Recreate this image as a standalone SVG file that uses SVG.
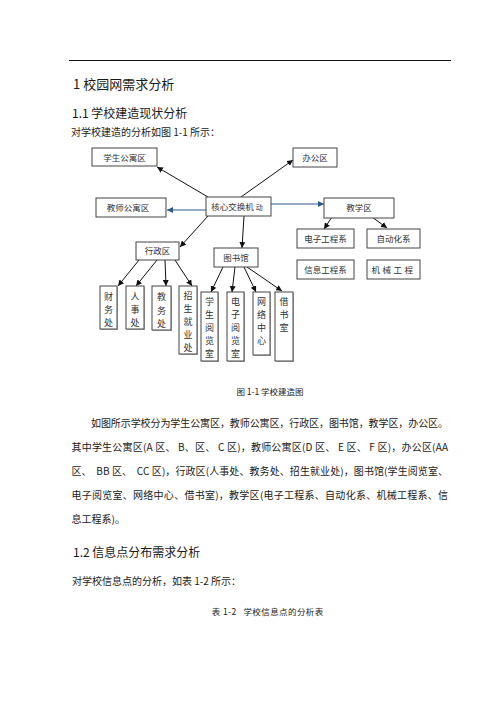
<svg xmlns="http://www.w3.org/2000/svg" width="496" height="702" viewBox="0 0 496 702">
<defs>
<style>
.t{font-family:"Noto Sans CJK SC","Liberation Sans",sans-serif;fill:#1a1a1a}
.h1{font-size:13px}
.h2{font-size:12px}
.p{font-size:10px}
.cap{font-size:8.5px}
.bx{fill:#fff;stroke:#444;stroke-width:1}
.sh{fill:#b5b5b5}
.lb{font-family:"Noto Sans CJK SC","Liberation Serif",serif;font-size:8.5px;fill:#333;text-anchor:middle}
.vl{font-family:"Noto Sans CJK SC","Liberation Serif",serif;font-size:9px;fill:#333;text-anchor:middle}
.k{stroke:#111;stroke-width:1;fill:none;marker-end:url(#ah)}
.b{stroke:#2a5a8c;stroke-width:1.2;fill:none;marker-end:url(#ahb)}
</style>
<marker id="ah" markerUnits="userSpaceOnUse" markerWidth="7" markerHeight="6" refX="6" refY="3" orient="auto"><path d="M0,0 L6,3 L0,6 z" fill="#111"/></marker>
<marker id="ahb" markerUnits="userSpaceOnUse" markerWidth="7" markerHeight="6" refX="6" refY="3" orient="auto"><path d="M0,0 L6,3 L0,6 z" fill="#2a5a8c"/></marker>
</defs>
<rect width="496" height="702" fill="#fff"/>
<line x1="69" y1="60.5" x2="451" y2="60.5" stroke="#111" stroke-width="1"/>
<text class="t h1" x="73" y="88.5">1 校园网需求分析</text>
<text class="t h2" x="72" y="117.5">1.1 学校建造现状分析</text>
<text class="t p" x="71" y="135.8">对学校建造的分析如图 1-1 所示：</text>

<g id="connectors">
<line class="k" x1="208" y1="197" x2="157" y2="167"/>
<line class="k" x1="241" y1="197" x2="293" y2="160"/>
<line class="b" x1="206" y1="210" x2="167" y2="210"/>
<line class="b" x1="271" y1="204" x2="324" y2="204"/>
<line class="k" x1="208" y1="216" x2="180" y2="247"/>
<line class="k" x1="244" y1="216" x2="242" y2="248"/>
<line class="k" x1="332" y1="217" x2="324" y2="229"/>
<line class="k" x1="372" y1="217" x2="387" y2="228"/>
<line class="k" x1="139" y1="260" x2="118" y2="286"/>
<line class="k" x1="157" y1="260" x2="136" y2="286"/>
<line class="k" x1="165" y1="260" x2="166" y2="286"/>
<line class="k" x1="175" y1="260" x2="192" y2="286"/>
<line class="k" x1="223" y1="267" x2="211" y2="292"/>
<line class="k" x1="235" y1="267" x2="232" y2="292"/>
<line class="k" x1="244" y1="267" x2="256" y2="292"/>
<line class="k" x1="247" y1="267" x2="282" y2="291"/>
</g>

<g id="n-xsgy"><rect class="bx" x="92" y="148" width="65" height="18"/><text class="lb" x="124.5" y="160.5">学生公寓区</text></g>
<g id="n-bgq"><rect class="bx" x="293" y="148" width="44" height="19"/><text class="lb" x="315" y="160.5">办公区</text></g>
<g id="n-jsgy"><rect class="bx" x="96" y="198" width="70" height="19"/><text class="lb" x="128" y="210.5">教师公寓区</text></g>
<g id="n-core"><rect class="bx" x="206" y="197" width="65" height="19"/><text class="lb" x="237" y="210">核心交换机 <tspan font-size="7">动</tspan></text></g>
<g id="n-jxq"><rect class="bx" x="324" y="198" width="70" height="20"/><text class="lb" x="359" y="211">教学区</text></g>
<g id="n-xzq"><rect class="bx" x="136" y="242" width="43" height="18"/><text class="lb" x="157.5" y="254">行政区</text></g>
<g id="n-tsg"><rect class="bx" x="214" y="248" width="44" height="19"/><text class="lb" x="236" y="260.5">图书馆</text></g>
<g id="n-dzgc"><rect class="bx" x="297" y="229" width="57" height="19"/><text class="lb" x="325.5" y="241.5">电子工程系</text></g>
<g id="n-zdh"><rect class="bx" x="367" y="229" width="53" height="19"/><text class="lb" x="393.5" y="241.5">自动化系</text></g>
<g id="n-xxgc"><rect class="bx" x="297" y="260" width="57" height="19"/><text class="lb" x="325.5" y="272.5">信息工程系</text></g>
<g id="n-jxgc"><rect class="bx" x="367" y="260" width="53" height="19"/><text class="lb" x="393.5" y="272.5" letter-spacing="2.5">机械工程</text></g>

<g id="n-cwc"><rect class="sh" x="101" y="287" width="17" height="43"/><rect class="bx" x="100" y="286" width="17" height="43"/><text class="vl"><tspan x="108.5" y="300">财</tspan><tspan x="108.5" y="313">务</tspan><tspan x="108.5" y="326">处</tspan></text></g>
<g id="n-rsc"><rect class="sh" x="127" y="287" width="18" height="43"/><rect class="bx" x="126" y="286" width="18" height="43"/><text class="vl"><tspan x="135" y="300">人</tspan><tspan x="135" y="313">事</tspan><tspan x="135" y="326">处</tspan></text></g>
<g id="n-jwc"><rect class="sh" x="153" y="287" width="19" height="44"/><rect class="bx" x="152" y="286" width="19" height="44"/><text class="vl" font-size="10.5"><tspan x="161.5" y="300">教</tspan><tspan x="161.5" y="313.5">务</tspan><tspan x="161.5" y="327">处</tspan></text></g>
<g id="n-zsjy"><rect class="sh" x="180" y="287" width="18" height="68"/><rect class="bx" x="179" y="286" width="18" height="68"/><text class="vl"><tspan x="188" y="298.5">招</tspan><tspan x="188" y="311.5">生</tspan><tspan x="188" y="324.5">就</tspan><tspan x="188" y="337.5">业</tspan><tspan x="188" y="350.5">处</tspan></text></g>
<g id="n-xsyl"><rect class="sh" x="202" y="293" width="17" height="69"/><rect class="bx" x="201" y="292" width="17" height="69"/><text class="vl"><tspan x="209.5" y="305">学</tspan><tspan x="209.5" y="318">生</tspan><tspan x="209.5" y="331">阅</tspan><tspan x="209.5" y="344">览</tspan><tspan x="209.5" y="357">室</tspan></text></g>
<g id="n-dzyl"><rect class="sh" x="228" y="293" width="17" height="69"/><rect class="bx" x="227" y="292" width="17" height="69"/><text class="vl"><tspan x="235.5" y="305">电</tspan><tspan x="235.5" y="318">子</tspan><tspan x="235.5" y="331">阅</tspan><tspan x="235.5" y="344">览</tspan><tspan x="235.5" y="357">室</tspan></text></g>
<g id="n-wlzx"><rect class="sh" x="254" y="293" width="17" height="63"/><rect class="bx" x="253" y="292" width="17" height="63"/><text class="vl"><tspan x="261.5" y="305">网</tspan><tspan x="261.5" y="318">络</tspan><tspan x="261.5" y="331">中</tspan><tspan x="261.5" y="344">心</tspan></text></g>
<g id="n-jss"><rect class="sh" x="276" y="293" width="18" height="69"/><rect class="bx" x="275" y="292" width="18" height="69"/><text class="vl"><tspan x="284" y="305">借</tspan><tspan x="284" y="318">书</tspan><tspan x="284" y="331">室</tspan></text></g>

<text class="t cap" x="270" y="394.7" text-anchor="middle" font-size="9">图 1-1 学校建造图</text>

<text class="t p" x="91" y="426.8" textLength="357" lengthAdjust="spacing">如图所示学校分为学生公寓区，教师公寓区，行政区，图书馆，教学区，办公区。</text>
<text class="t p" x="71.5" y="450.8" textLength="376.5" lengthAdjust="spacing">其中学生公寓区(A 区、 B、区、 C 区)，教师公寓区(D 区、 E 区、 F 区)，办公区(AA</text>
<text class="t p" x="71.5" y="474.8" textLength="376.5" lengthAdjust="spacing" xml:space="preserve">区、  BB 区、  CC 区)，行政区(人事处、教务处、招生就业处)，图书馆(学生阅览室、</text>
<text class="t p" x="71.5" y="498.8" textLength="376.5" lengthAdjust="spacing">电子阅览室、网络中心、借书室)，教学区(电子工程系、自动化系、机械工程系、信</text>
<text class="t p" x="71.5" y="522.8">息工程系)。</text>

<text class="t h2" x="73" y="557">1.2 信息点分布需求分析</text>
<text class="t p" x="72" y="585.2">对学校信息点的分析，如表 1-2 所示：</text>
<text class="t cap" x="211.7" y="614.7" textLength="111.6" lengthAdjust="spacing" xml:space="preserve">表 1-2   学校信息点的分析表</text>
</svg>
